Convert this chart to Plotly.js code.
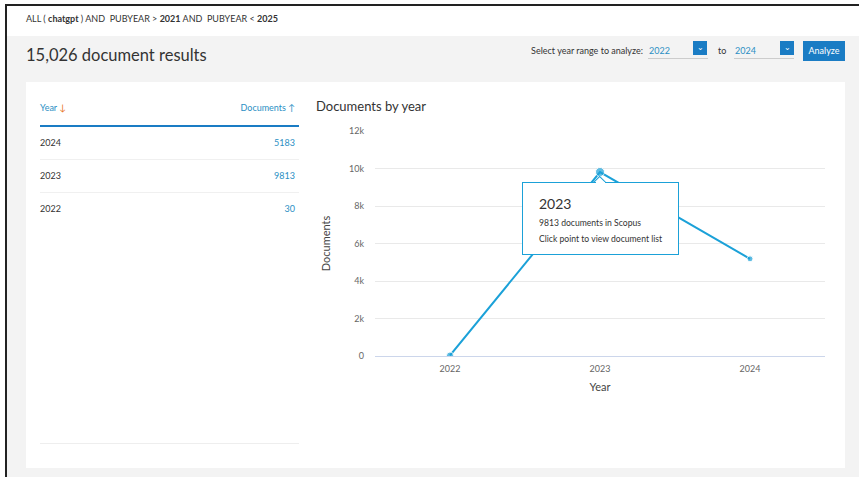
<!DOCTYPE html>
<html><head><meta charset="utf-8">
<script src="https://cdn.plot.ly/plotly-3.0.1.min.js"></script>
<style>
html,body{margin:0;padding:0;width:859px;height:477px;overflow:hidden;background:#fff;font-family:Lato,"Open Sans",sans-serif;}
.abs{position:absolute;}
#chart{position:absolute;left:0;top:0;width:859px;height:477px;}
</style></head><body>
<div class="abs" style="left:5px;top:4px;width:854px;height:2px;background:#222"></div>
<div class="abs" style="left:5px;top:4px;width:2px;height:473px;background:#222"></div>
<div class="abs" style="left:26px;top:13px;font-size:9px;color:#333;white-space:nowrap">ALL ( <b>chatgpt</b> ) AND&nbsp; PUBYEAR &gt; <b>2021</b> AND&nbsp; PUBYEAR &lt; <b>2025</b></div>
<div class="abs" style="left:7px;top:36px;width:852px;height:441px;background:#f3f3f3"></div>
<div class="abs" style="left:26px;top:45px;font-size:16.5px;color:#333;white-space:nowrap">15,026 document results</div>
<div class="abs" style="left:500px;top:45px;width:143px;text-align:right;font-size:9px;color:#333;white-space:nowrap">Select year range to analyze:</div>
<div class="abs" style="left:649px;top:45px;font-size:9px;color:#2b8fc4">2022</div>
<div class="abs" style="left:648px;top:58px;width:60px;height:1px;background:#ccc"></div>
<div class="abs" style="left:693px;top:41px;width:14px;height:14px;background:#1a7cc4;color:#fff;font-size:8px;text-align:center;line-height:12px">&#8964;</div>
<div class="abs" style="left:718px;top:45px;font-size:9px;color:#333">to</div>
<div class="abs" style="left:735px;top:45px;font-size:9px;color:#2b8fc4">2024</div>
<div class="abs" style="left:734px;top:58px;width:60px;height:1px;background:#ccc"></div>
<div class="abs" style="left:780px;top:41px;width:14px;height:14px;background:#1a7cc4;color:#fff;font-size:8px;text-align:center;line-height:12px">&#8964;</div>
<div class="abs" style="left:803px;top:41px;width:42px;height:20px;background:#1a7cc4;color:#fff;font-size:9px;text-align:center;line-height:20px">Analyze</div>
<div class="abs" style="left:26px;top:82px;width:819px;height:386px;background:#fff"></div>
<div class="abs" style="left:40px;top:102px;font-size:9px;color:#2b8fc4">Year <span style="color:#e8731e">&#8595;</span></div>
<div class="abs" style="left:180px;top:102px;width:115px;text-align:right;font-size:9px;color:#2b8fc4">Documents <span>&#8593;</span></div>
<div class="abs" style="left:40px;top:125px;width:259px;height:2px;background:#1a7cc4"></div>
<div id="table"></div>
<div class="abs" style="left:40px;top:443px;width:259px;height:1px;background:#eee"></div>
<div id="chart"></div>
<div id="err" class="abs" style="left:330px;top:420px;font-size:10px;color:red"></div>
<script>
window.onerror = function(m){ document.getElementById('err').textContent = m; };
const years = ['2022', '2023', '2024'];
const documents = [30, 9813, 5183];
const yTickVals = [0, 2000, 4000, 6000, 8000, 10000, 12000];
const yTickText = ['0', '2k', '4k', '6k', '8k', '10k', '12k'];
const tableYears = ['2024', '2023', '2022'];
const tableDocs = [5183, 9813, 30];

const tbl = document.getElementById('table');
tableYears.forEach((y, i) => {
  const top = 137 + i * 33;
  tbl.insertAdjacentHTML('beforeend',
    `<div class="abs" style="left:40px;top:${top}px;font-size:9px;color:#333">${y}</div>` +
    `<div class="abs" style="left:200px;top:${top}px;width:95px;text-align:right;font-size:9px;color:#2b8fc4">${tableDocs[i]}</div>` +
    (i < tableYears.length - 1 ? `<div class="abs" style="left:40px;top:${top+22}px;width:259px;height:1px;background:#f0f0f0"></div>` : ''));
});

const lineColor = '#1ba1d8';
const trace = {
  x: years, y: documents, type: 'scatter', mode: 'lines+markers',
  line: {color: lineColor, width: 2},
  marker: {color: lineColor, size: [7, 9, 6]},
  hoverinfo: 'skip'
};
const hi = 1;
const tipBase = {x: hi, y: documents[hi], xref: 'x', yref: 'y', showarrow: false};
const tipText = (text, size, yshift) => Object.assign({}, tipBase, {
  xanchor: 'left', yanchor: 'middle', xshift: -63, yshift: yshift,
  text: text, font: {size: size, color: '#333'}
});
const layout = {
  width: 859, height: 477,
  paper_bgcolor: 'rgba(0,0,0,0)', plot_bgcolor: 'rgba(0,0,0,0)',
  margin: {l: 375, r: 34, t: 131, b: 121},
  showlegend: false,
  font: {family: 'Lato, "Open Sans", sans-serif', color: '#555'},
  title: {text: 'Documents by year', x: 316/859, xanchor: 'left', xref: 'container', y: 1 - 106/477, yanchor: 'middle', yref: 'container', font: {size: 13, color: '#333'}},
  xaxis: {type: 'category', range: [-0.5, 2.5], showgrid: false, zeroline: false, showline: false, ticks: '',
    tickfont: {size: 9, color: '#666'}, ticklabelstandoff: 6,
    title: {text: 'Year', font: {size: 11, color: '#444'}, standoff: 10}},
  yaxis: {range: [0, 12000], tickvals: yTickVals, ticktext: yTickText, gridcolor: '#e9e9e9', gridwidth: 1,
    zeroline: true, zerolinecolor: '#ccd6eb', zerolinewidth: 1, showline: false, ticks: '',
    tickfont: {size: 9, color: '#666'}, ticklabelstandoff: 10,
    title: {text: 'Documents', font: {size: 11, color: '#444'}, standoff: 16}},
  annotations: [
    Object.assign({}, tipBase, {xanchor: 'center', yanchor: 'middle', yshift: -10.5, text: ' ', width: 8, height: 8,
      textangle: 45, bgcolor: '#ffffff', bordercolor: lineColor, borderwidth: 1, borderpad: 0}),
    Object.assign({}, tipBase, {xanchor: 'center', yanchor: 'top', yshift: -10, text: ' ', width: 155, height: 71,
      bgcolor: '#ffffff', bordercolor: lineColor, borderwidth: 1, borderpad: 0}),
    Object.assign({}, tipBase, {xanchor: 'center', yanchor: 'middle', yshift: -10.5, text: ' ', width: 9, height: 2,
      bgcolor: '#ffffff', borderwidth: 0, borderpad: 0}),
    tipText(years[hi], 14, -31),
    tipText(documents[hi] + ' documents in Scopus', 8.6, -51),
    tipText('Click point to view document list', 8.6, -67)
  ]
};
Plotly.newPlot('chart', [trace], layout, {staticPlot: true, displayModeBar: false});
</script>
</body></html>
